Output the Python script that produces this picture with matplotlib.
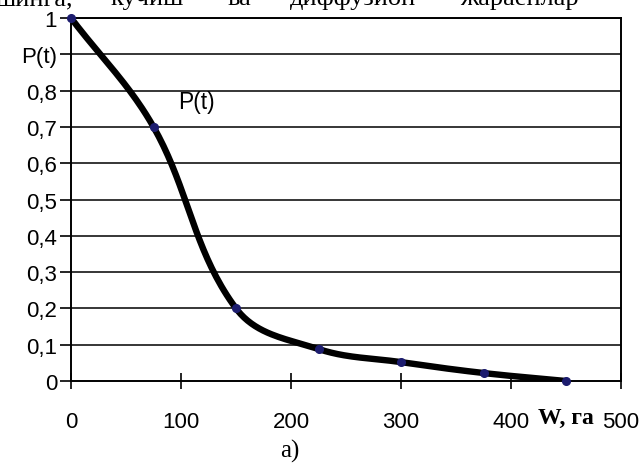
import numpy as np
import matplotlib
matplotlib.use("Agg")
import matplotlib.pyplot as plt

# данные кривой P(t)
w_ga = [0, 75, 150, 225, 300, 375, 450]
p_t = [1.0, 0.70, 0.20, 0.088, 0.052, 0.022, 0.0]

y_ticks = [0, 0.1, 0.2, 0.3, 0.4, 0.5, 0.6, 0.7, 0.8, 0.9, 1.0]
y_labels = ["0", "0,1", "0,2", "0,3", "0,4", "0,5", "0,6", "0,7", "0,8", "P(t)", "1"]
x_ticks = [0, 100, 200, 300, 400, 500]
x_labels = ["0", "100", "200", "300", "400", "500"]

top_words = ["шинга,", "кучиш", "ва", "диффузион", "жараёнлар"]
top_word_x = [-4, 110, 227, 290, 460]  # левые края слов, px


def smooth(xs, ys, sx=1.1, sy=364.0, k=0.36, n=40):
    # сглаженная линия: касательные по соседним точкам, длина по хорде
    p = np.column_stack([np.asarray(xs, float) * sx, np.asarray(ys, float) * sy])
    m = len(p)
    d = np.zeros_like(p)
    for i in range(m):
        a = p[max(i - 1, 0)]
        b = p[min(i + 1, m - 1)]
        v = b - a
        d[i] = v / np.hypot(*v)
    t = np.linspace(0, 1, n)[:, None]
    segs = []
    for i in range(m - 1):
        L = np.hypot(*(p[i + 1] - p[i]))
        c1 = p[i] + d[i] * L * k
        c2 = p[i + 1] - d[i + 1] * L * k
        segs.append((1 - t) ** 3 * p[i] + 3 * (1 - t) ** 2 * t * c1
                    + 3 * (1 - t) * t ** 2 * c2 + t ** 3 * p[i + 1])
    out = np.vstack(segs)
    return out[:, 0] / sx, out[:, 1] / sy


plt.rcParams['font.family'] = ['Liberation Sans', 'DejaVu Sans']

fig = plt.figure(figsize=(6.4, 4.64), dpi=100)
ax = fig.add_axes([71 / 640, 1 - 382 / 464, 550 / 640, 363 / 464])

cx, cy = smooth(w_ga, p_t)
ax.plot(cx, cy, color='black', lw=4.6, solid_capstyle='round', zorder=3)
ax.plot(w_ga, p_t, 'o', color='#1c1c6e', ms=5.5, zorder=4, clip_on=False)

ax.set_xlim(0, 500)
ax.set_ylim(0, 1)
ax.set_yticks(y_ticks)
ax.set_yticklabels(y_labels)
ax.set_xticks(x_ticks)
ax.set_xticklabels(x_labels)

for y in y_ticks[1:]:
    ax.axhline(y, color='black', lw=1.1, zorder=1)

for s in ax.spines.values():
    s.set_linewidth(1.4)
    s.set_color('black')

ax.tick_params(axis='x', direction='inout', length=11, width=1.2, pad=16, labelsize=16)
ax.tick_params(axis='y', direction='out', length=8, width=1.2, pad=2, labelsize=16)

ax.text(0.9, -0.071, "W, га", transform=ax.transAxes, ha='center', va='top',
        fontsize=17, fontweight='bold', family=['Liberation Serif', 'DejaVu Serif'])
ax.text(97, 0.77, "P(t)", fontsize=16.5, va='center', ha='left')

fig.text(290 / 640, 1 - 451 / 464, "а)", ha='center', va='center', fontsize=18,
         family=['Liberation Serif', 'DejaVu Serif'])

for word, x in zip(top_words, top_word_x):
    fig.text(x / 640, 1 - 5 / 464, word, ha='left', va='baseline', fontsize=19,
             family=['Liberation Serif', 'DejaVu Serif'])

fig.savefig("out.png", dpi=100, facecolor='white')
